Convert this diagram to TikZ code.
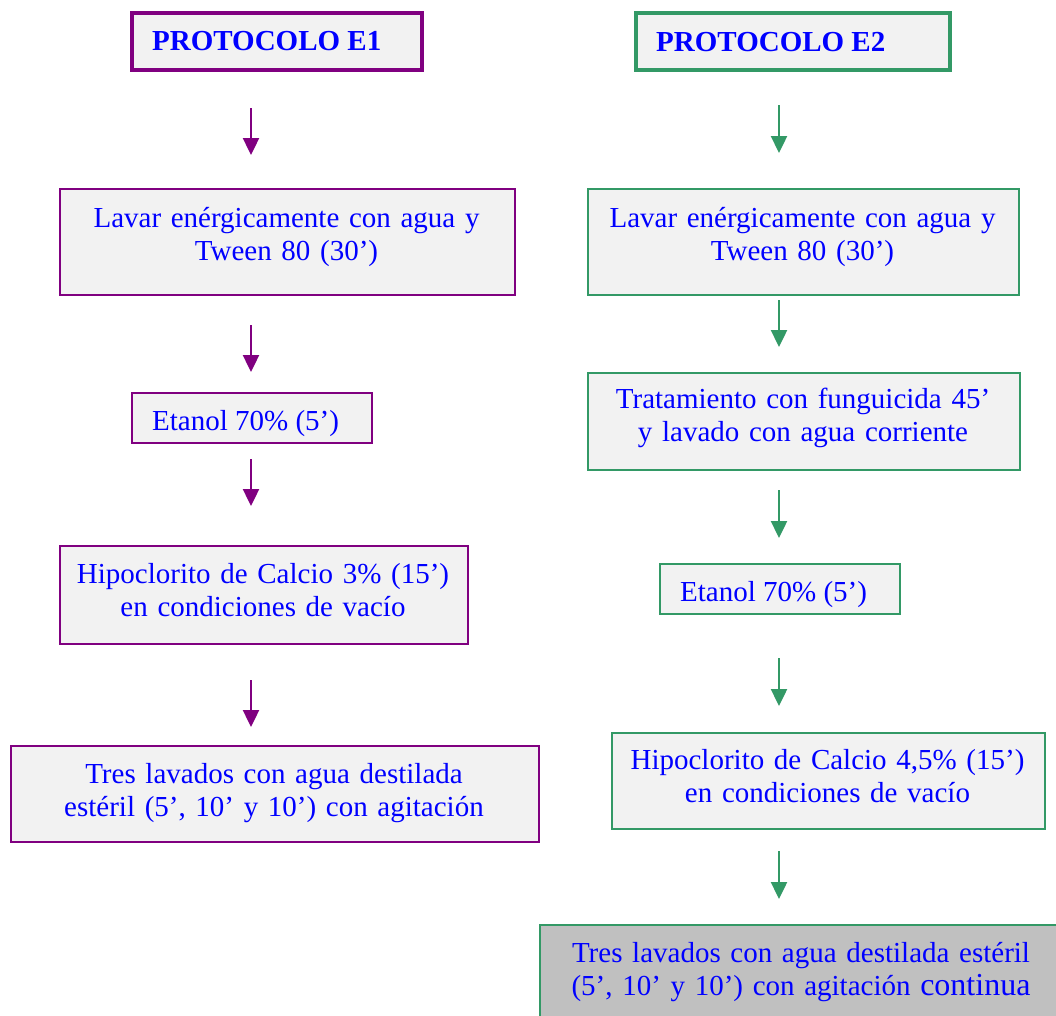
\documentclass[tikz,border=0pt]{standalone}
\usepackage{fontspec}
\setmainfont{Liberation Serif}
\usetikzlibrary{arrows.meta}
\definecolor{epurple}{RGB}{128,0,128}
\definecolor{egreen}{RGB}{51,153,102}
\definecolor{boxgray}{RGB}{242,242,242}
\definecolor{darkgray}{RGB}{192,192,192}
\definecolor{txtblue}{RGB}{0,0,255}
\tikzset{
  boxbase/.style={line width=2pt, fill=boxgray, inner sep=0pt, anchor=north west},
  pbox/.style={boxbase, draw=epurple},
  gbox/.style={boxbase, draw=egreen},
  phead/.style={pbox, line width=4pt},
  ghead/.style={gbox, line width=4pt},
  txt/.style={inner sep=0pt, text=txtblue, font=\fontsize{29}{33}\selectfont},
  mtxt/.style={txt, align=center, anchor=base},
  stxt/.style={txt, anchor=base west},
  htxt/.style={stxt, font=\fontsize{29}{33}\selectfont\bfseries},
  parrow/.style={draw=epurple, line width=2.4pt, -{Triangle[length=17pt 0 0,width=16pt 0 0]}},
  garrow/.style={draw=egreen, line width=2.4pt, -{Triangle[length=17pt 0 0,width=16pt 0 0]}}
}
\begin{document}
\begin{tikzpicture}[x=1pt,y=-1pt]
\useasboundingbox (0,0) rectangle (1056,1015);
\clip (0,0) rectangle (1056,1015);
% ---- left column (E1)
\node[phead, minimum width=290pt, minimum height=57pt] (h1) at (130,11) {};
\node[htxt] (h1t) at (152,50) {PROTOCOLO E1};
\node[pbox, minimum width=455pt, minimum height=106pt] (l1) at (59,188) {};
\node[mtxt, text width=450pt] (l1t) at (286.5,227) {Lavar enérgicamente con agua y\\Tween 80 (30’)};
\node[pbox, minimum width=240pt, minimum height=50pt] (l2) at (131,392) {};
\node[stxt] (l2t) at (152,430) {Etanol 70\% (5’)};
\node[pbox, minimum width=408pt, minimum height=98pt] (l3) at (59,545) {};
\node[mtxt, text width=404pt] (l3t) at (263,583) {Hipoclorito de Calcio 3\% (15’)\\en condiciones de vacío};
\node[pbox, minimum width=528pt, minimum height=96pt] (l4) at (10,745) {};
\node[mtxt, text width=520pt] (l4t) at (274,783) {Tres lavados con agua destilada\\estéril (5’, 10’ y 10’) con agitación};
% ---- right column (E2)
\node[ghead, minimum width=314pt, minimum height=57pt] (h2) at (634,11) {};
\node[htxt] (h2t) at (656,51) {PROTOCOLO E2};
\node[gbox, minimum width=431pt, minimum height=106pt] (r1) at (587,188) {};
\node[mtxt, text width=426pt] (r1t) at (802.5,227) {Lavar enérgicamente con agua y\\Tween 80 (30’)};
\node[gbox, minimum width=432pt, minimum height=97pt] (r2) at (587,372) {};
\node[mtxt, text width=426pt] (r2t) at (803,408) {Tratamiento con funguicida 45’\\y lavado con agua corriente};
\node[gbox, minimum width=240pt, minimum height=50pt] (r3) at (659,563) {};
\node[stxt] (r3t) at (680,601) {Etanol 70\% (5’)};
\node[gbox, minimum width=433pt, minimum height=96pt] (r4) at (611,732) {};
\node[mtxt, text width=428pt] (r4t) at (827.5,769) {Hipoclorito de Calcio 4,5\% (15’)\\en condiciones de vacío};
\node[gbox, fill=darkgray, minimum width=540pt, minimum height=110pt] (r5) at (539,924) {};
\node[mtxt, text width=500pt] (r5t) at (801,962) {Tres lavados con agua destilada estéril\\(5’, 10’ y 10’) con agitación {\fontsize{32}{33}\selectfont continua}};
% ---- arrows left
\coordinate (la1s) at (251,108); \coordinate (la1e) at (251,155);
\coordinate (la2s) at (251,325); \coordinate (la2e) at (251,372);
\coordinate (la3s) at (251,459); \coordinate (la3e) at (251,506);
\coordinate (la4s) at (251,680); \coordinate (la4e) at (251,727);
\draw[parrow] (la1s) -- (la1e);
\draw[parrow] (la2s) -- (la2e);
\draw[parrow] (la3s) -- (la3e);
\draw[parrow] (la4s) -- (la4e);
% ---- arrows right
\coordinate (ra1s) at (779,105); \coordinate (ra1e) at (779,153);
\coordinate (ra2s) at (779,300); \coordinate (ra2e) at (779,347);
\coordinate (ra3s) at (779,490); \coordinate (ra3e) at (779,538);
\coordinate (ra4s) at (779,658); \coordinate (ra4e) at (779,706);
\coordinate (ra5s) at (779,851); \coordinate (ra5e) at (779,899);
\draw[garrow] (ra1s) -- (ra1e);
\draw[garrow] (ra2s) -- (ra2e);
\draw[garrow] (ra3s) -- (ra3e);
\draw[garrow] (ra4s) -- (ra4e);
\draw[garrow] (ra5s) -- (ra5e);
\end{tikzpicture}
\end{document}
